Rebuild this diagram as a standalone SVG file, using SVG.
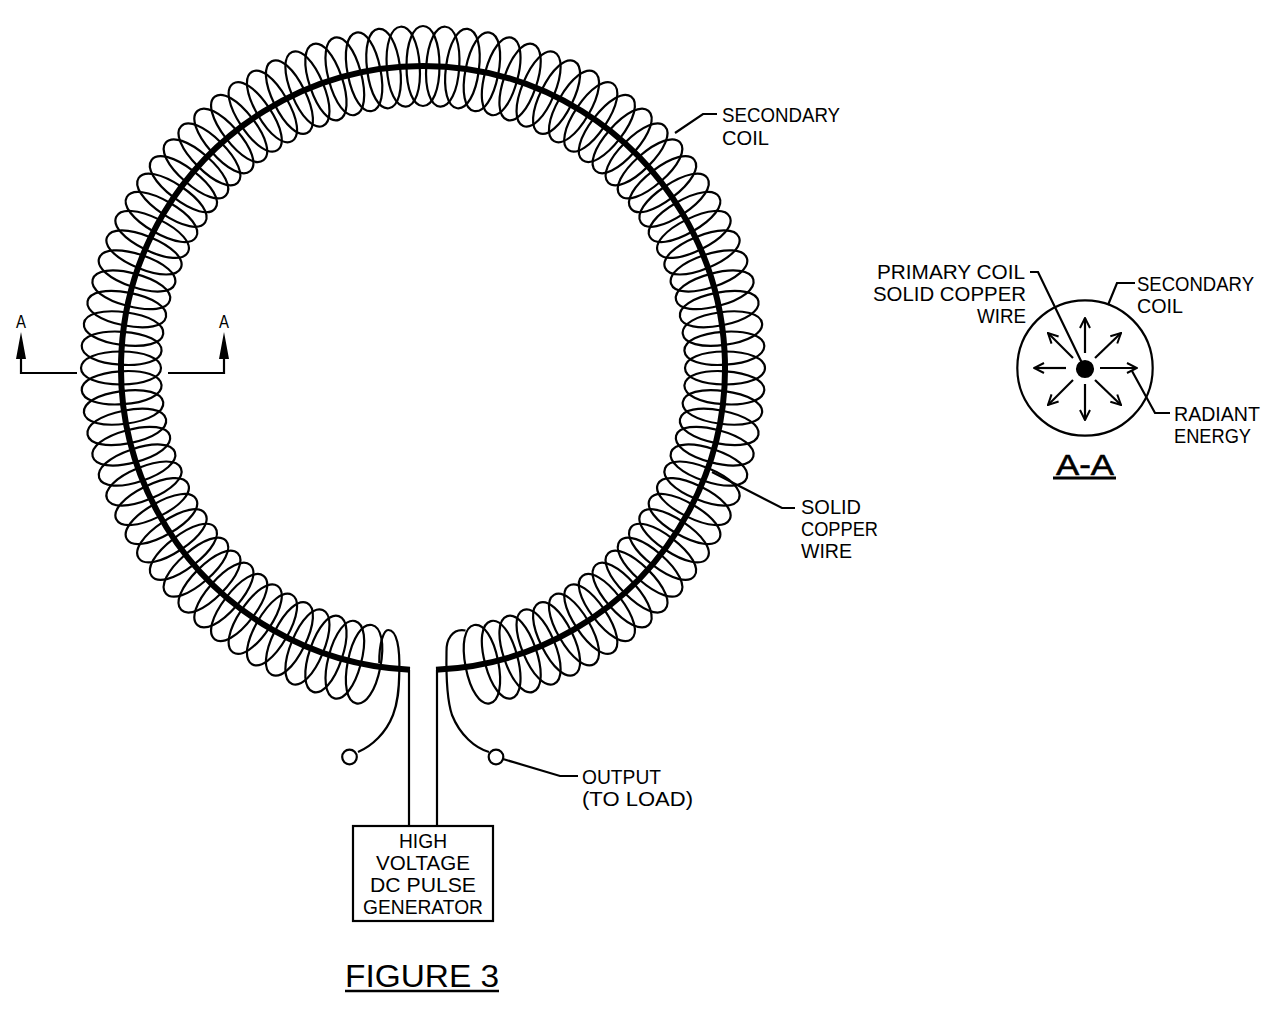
<svg xmlns="http://www.w3.org/2000/svg" width="1276" height="1026" viewBox="0 0 1276 1026">
<style>
.l{fill:none;stroke:#000;stroke-width:2.2}
.t{font-family:"Liberation Sans",Arial,sans-serif;font-size:21px;fill:#000}
</style>
<defs>
<path id="e" d="M423 26C432.600 26 439.500 42 439.500 66C439.500 90 432.600 106 423 106C413.400 106 406.500 90 406.500 66C406.500 42 413.400 26 423 26Z"/>
<marker id="v" viewBox="0 0 12 12" refX="11" refY="6" markerWidth="12" markerHeight="12" markerUnits="userSpaceOnUse" orient="auto"><path d="M1 1L11 6L1 11" fill="none" stroke="#000" stroke-width="2"/></marker>
</defs>
<rect width="1276" height="1026" fill="#fff"/>
<g id="secondary-coil" class="l">
<use href="#e" transform="rotate(0 423 368)"/>
<use href="#e" transform="rotate(3.75 423 368)"/><use href="#e" transform="rotate(7.5 423 368)"/><use href="#e" transform="rotate(11.25 423 368)"/><use href="#e" transform="rotate(15 423 368)"/><use href="#e" transform="rotate(18.75 423 368)"/><use href="#e" transform="rotate(22.5 423 368)"/><use href="#e" transform="rotate(26.25 423 368)"/><use href="#e" transform="rotate(30 423 368)"/><use href="#e" transform="rotate(33.75 423 368)"/><use href="#e" transform="rotate(37.5 423 368)"/><use href="#e" transform="rotate(41.25 423 368)"/><use href="#e" transform="rotate(45 423 368)"/><use href="#e" transform="rotate(48.75 423 368)"/><use href="#e" transform="rotate(52.5 423 368)"/><use href="#e" transform="rotate(56.25 423 368)"/><use href="#e" transform="rotate(60 423 368)"/><use href="#e" transform="rotate(63.75 423 368)"/><use href="#e" transform="rotate(67.5 423 368)"/><use href="#e" transform="rotate(71.25 423 368)"/><use href="#e" transform="rotate(75 423 368)"/><use href="#e" transform="rotate(78.75 423 368)"/><use href="#e" transform="rotate(82.5 423 368)"/><use href="#e" transform="rotate(86.25 423 368)"/><use href="#e" transform="rotate(90 423 368)"/><use href="#e" transform="rotate(93.75 423 368)"/><use href="#e" transform="rotate(97.5 423 368)"/><use href="#e" transform="rotate(101.25 423 368)"/><use href="#e" transform="rotate(105 423 368)"/><use href="#e" transform="rotate(108.75 423 368)"/><use href="#e" transform="rotate(112.5 423 368)"/><use href="#e" transform="rotate(116.25 423 368)"/><use href="#e" transform="rotate(120 423 368)"/><use href="#e" transform="rotate(123.75 423 368)"/><use href="#e" transform="rotate(127.5 423 368)"/><use href="#e" transform="rotate(131.25 423 368)"/><use href="#e" transform="rotate(135 423 368)"/><use href="#e" transform="rotate(138.75 423 368)"/><use href="#e" transform="rotate(142.5 423 368)"/><use href="#e" transform="rotate(146.25 423 368)"/><use href="#e" transform="rotate(150 423 368)"/><use href="#e" transform="rotate(153.75 423 368)"/><use href="#e" transform="rotate(157.5 423 368)"/><use href="#e" transform="rotate(161.25 423 368)"/><use href="#e" transform="rotate(165 423 368)"/><use href="#e" transform="rotate(168.75 423 368)"/>
<use href="#e" transform="rotate(-3.75 423 368)"/><use href="#e" transform="rotate(-7.5 423 368)"/><use href="#e" transform="rotate(-11.25 423 368)"/><use href="#e" transform="rotate(-15 423 368)"/><use href="#e" transform="rotate(-18.75 423 368)"/><use href="#e" transform="rotate(-22.5 423 368)"/><use href="#e" transform="rotate(-26.25 423 368)"/><use href="#e" transform="rotate(-30 423 368)"/><use href="#e" transform="rotate(-33.75 423 368)"/><use href="#e" transform="rotate(-37.5 423 368)"/><use href="#e" transform="rotate(-41.25 423 368)"/><use href="#e" transform="rotate(-45 423 368)"/><use href="#e" transform="rotate(-48.75 423 368)"/><use href="#e" transform="rotate(-52.5 423 368)"/><use href="#e" transform="rotate(-56.25 423 368)"/><use href="#e" transform="rotate(-60 423 368)"/><use href="#e" transform="rotate(-63.75 423 368)"/><use href="#e" transform="rotate(-67.5 423 368)"/><use href="#e" transform="rotate(-71.25 423 368)"/><use href="#e" transform="rotate(-75 423 368)"/><use href="#e" transform="rotate(-78.75 423 368)"/><use href="#e" transform="rotate(-82.5 423 368)"/><use href="#e" transform="rotate(-86.25 423 368)"/><use href="#e" transform="rotate(-90 423 368)"/><use href="#e" transform="rotate(-93.75 423 368)"/><use href="#e" transform="rotate(-97.5 423 368)"/><use href="#e" transform="rotate(-101.25 423 368)"/><use href="#e" transform="rotate(-105 423 368)"/><use href="#e" transform="rotate(-108.75 423 368)"/><use href="#e" transform="rotate(-112.5 423 368)"/><use href="#e" transform="rotate(-116.25 423 368)"/><use href="#e" transform="rotate(-120 423 368)"/><use href="#e" transform="rotate(-123.75 423 368)"/><use href="#e" transform="rotate(-127.5 423 368)"/><use href="#e" transform="rotate(-131.25 423 368)"/><use href="#e" transform="rotate(-135 423 368)"/><use href="#e" transform="rotate(-138.75 423 368)"/><use href="#e" transform="rotate(-142.5 423 368)"/><use href="#e" transform="rotate(-146.25 423 368)"/><use href="#e" transform="rotate(-150 423 368)"/><use href="#e" transform="rotate(-153.75 423 368)"/><use href="#e" transform="rotate(-157.5 423 368)"/><use href="#e" transform="rotate(-161.25 423 368)"/><use href="#e" transform="rotate(-165 423 368)"/><use href="#e" transform="rotate(-168.75 423 368)"/>
<path d="M379.3 663C379 642 384 630 388.3 630C397 630 400 648 399.3 672C399 690 398 702 393 715C386 733 372 746 358 752"/>
<path d="M465.5 630.5C452 628 446 640 446.5 652C446 680 447 700 452 715C460 735 475 748 489 752"/>
<circle cx="349.500" cy="757" r="7.300"/><circle cx="496" cy="757" r="7.300"/>
</g>
<path id="primary-wire" d="M410 669.700A302 302 0 1 1 436 669.700" fill="none" stroke="#000" stroke-width="6"/>
<g id="connectors" class="l">
<path d="M409 670V826M437 670V826"/>
<path d="M21 359V373H77M224 359V373H168"/>
<path d="M675 133L703 114H717"/>
<path d="M712 472L782 508H795"/>
<path d="M503 759L560 776H578"/>
<path d="M1030 272H1038L1082 363"/>
<path d="M1108 305L1117 283H1135"/>
<path d="M1132 371L1155 413H1170"/>
<path d="M345 991H499" stroke-width="2.500"/>
<path d="M1053 478H1116" stroke-width="3"/>
</g>
<path id="section-arrows" d="M21 332L26 359H16ZM224 332L229 359H219Z"/>
<g id="section" class="l">
<circle cx="1085" cy="368" r="67.700"/>
<path marker-end="url(#v)" d="M1100 368H1137"/><path marker-end="url(#v)" d="M1066 368H1034"/><path marker-end="url(#v)" d="M1085 353V318"/><path marker-end="url(#v)" d="M1085 384V420"/><path marker-end="url(#v)" d="M1095 358L1121 333"/><path marker-end="url(#v)" d="M1073 358L1048 333"/><path marker-end="url(#v)" d="M1073 380L1048 405"/><path marker-end="url(#v)" d="M1095 380L1121 405"/>
<circle cx="1085" cy="369" r="8" fill="#000"/>
</g>
<rect id="generator-box" class="l" x="353" y="826" width="140" height="95"/>
<g id="labels" class="t">
<text x="722" y="122" textLength="118" lengthAdjust="spacingAndGlyphs">SECONDARY</text>
<text x="722" y="145" textLength="47" lengthAdjust="spacingAndGlyphs">COIL</text>
<text x="801" y="514" textLength="60" lengthAdjust="spacingAndGlyphs">SOLID</text>
<text x="801" y="536" textLength="77" lengthAdjust="spacingAndGlyphs">COPPER</text>
<text x="801" y="558" textLength="51" lengthAdjust="spacingAndGlyphs">WIRE</text>
<text x="582" y="784" textLength="79" lengthAdjust="spacingAndGlyphs">OUTPUT</text>
<text x="582" y="806" textLength="111" lengthAdjust="spacingAndGlyphs">(TO LOAD)</text>
<text x="399" y="848" textLength="48" lengthAdjust="spacingAndGlyphs">HIGH</text>
<text x="376" y="870" textLength="94" lengthAdjust="spacingAndGlyphs">VOLTAGE</text>
<text x="370" y="892" textLength="106" lengthAdjust="spacingAndGlyphs">DC PULSE</text>
<text x="363" y="914" textLength="120" lengthAdjust="spacingAndGlyphs">GENERATOR</text>
<text x="877" y="279" textLength="148" lengthAdjust="spacingAndGlyphs">PRIMARY COIL</text>
<text x="873" y="301" textLength="153" lengthAdjust="spacingAndGlyphs">SOLID COPPER</text>
<text x="977" y="323" textLength="49" lengthAdjust="spacingAndGlyphs">WIRE</text>
<text x="1137" y="291" textLength="117" lengthAdjust="spacingAndGlyphs">SECONDARY</text>
<text x="1137" y="313" textLength="46" lengthAdjust="spacingAndGlyphs">COIL</text>
<text x="1174" y="421" textLength="86" lengthAdjust="spacingAndGlyphs">RADIANT</text>
<text x="1174" y="443" textLength="77" lengthAdjust="spacingAndGlyphs">ENERGY</text>
<text x="16" y="328" font-size="18" textLength="10" lengthAdjust="spacingAndGlyphs">A</text>
<text x="219" y="328" font-size="18" textLength="10" lengthAdjust="spacingAndGlyphs">A</text>
<text x="1056" y="475" font-size="30" textLength="58" lengthAdjust="spacingAndGlyphs" stroke="#000" stroke-width=".6">A-A</text>
<text x="345" y="987" font-size="32" textLength="154" lengthAdjust="spacingAndGlyphs">FIGURE 3</text>
</g>
</svg>
